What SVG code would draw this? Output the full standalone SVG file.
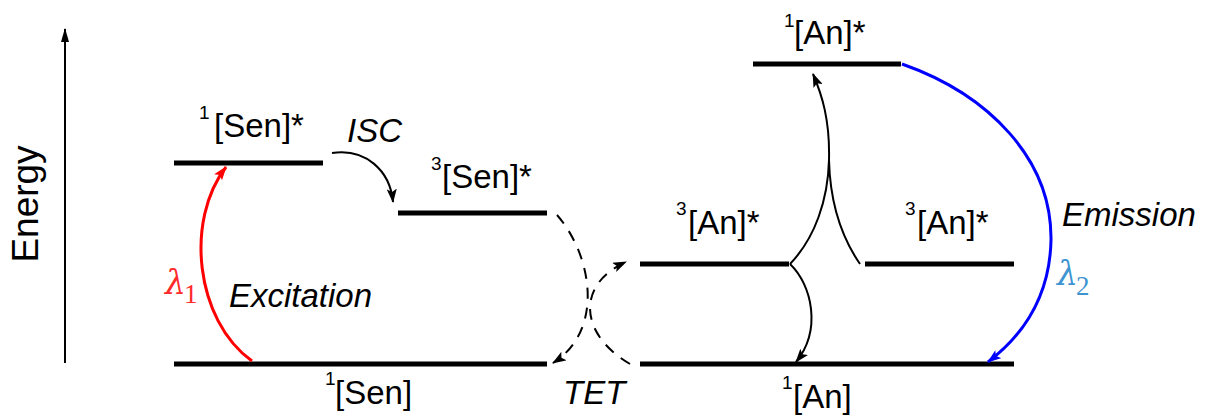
<svg xmlns="http://www.w3.org/2000/svg" width="1207" height="417" viewBox="0 0 1207 417">
<style>
.lvl{stroke:#000;stroke-width:5;fill:none}
.lbl{font-family:"Liberation Sans",Arial,sans-serif;font-size:33px;fill:#000}
.sup{font-size:19px}
.it{font-style:italic}
.con{fill:none;stroke:#000;stroke-width:2}
.dash{fill:none;stroke:#000;stroke-width:2;stroke-dasharray:11 9}
.lam{font-family:"DejaVu Serif",serif;font-style:italic;font-size:33px}
.sub{font-family:"Liberation Serif",serif;font-style:normal;font-size:27px}
</style>
<defs>
<marker id="ab" markerUnits="userSpaceOnUse" viewBox="0 0 14 10" refX="13" refY="5" markerWidth="14" markerHeight="10" orient="auto">
<path d="M0,0 L14,5 L0,10 L3,5 z" fill="#000"/>
</marker>
<marker id="ar" markerUnits="userSpaceOnUse" viewBox="0 0 14 10" refX="13" refY="5" markerWidth="14" markerHeight="10" orient="auto">
<path d="M0,0 L14,5 L0,10 L3,5 z" fill="#ff0000"/>
</marker>
<marker id="abl" markerUnits="userSpaceOnUse" viewBox="0 0 14 10" refX="13" refY="5" markerWidth="14" markerHeight="10" orient="auto">
<path d="M0,0 L14,5 L0,10 L3,5 z" fill="#0000ff"/>
</marker>
<marker id="axis" markerUnits="userSpaceOnUse" viewBox="0 0 14 8" refX="13" refY="4" markerWidth="14" markerHeight="8" orient="auto">
<path d="M0,0 L14,4 L0,8 z" fill="#000"/>
</marker>
</defs>

<g id="axis-energy">
<line x1="65" y1="363" x2="65" y2="29" stroke="#000" stroke-width="2" marker-end="url(#axis)"/>
<text class="lbl" style="font-size:37px" transform="translate(38,204) rotate(-90)" text-anchor="middle">Energy</text>
</g>

<g id="sen-s1">
<line class="lvl" x1="174" y1="163" x2="323" y2="163"/>
<text class="lbl"><tspan class="sup" x="199" y="119">1</tspan><tspan x="214" y="137">[Sen]*</tspan></text>
</g>
<g id="sen-t1">
<line class="lvl" x1="398" y1="213" x2="547" y2="213"/>
<text class="lbl"><tspan class="sup" x="431" y="170">3</tspan><tspan x="442" y="188">[Sen]*</tspan></text>
</g>
<g id="sen-s0">
<line class="lvl" x1="174" y1="364" x2="547" y2="364"/>
<text class="lbl"><tspan class="sup" x="325" y="385">1</tspan><tspan x="335" y="404">[Sen]</tspan></text>
</g>
<g id="an-s1">
<line class="lvl" x1="753" y1="64" x2="901" y2="64"/>
<text class="lbl"><tspan class="sup" x="784" y="27">1</tspan><tspan x="794" y="44">[An]*</tspan></text>
</g>
<g id="an-t1-left">
<line class="lvl" x1="640" y1="264" x2="789" y2="264"/>
<text class="lbl"><tspan class="sup" x="676" y="215">3</tspan><tspan x="688" y="234">[An]*</tspan></text>
</g>
<g id="an-t1-right">
<line class="lvl" x1="865" y1="264" x2="1014" y2="264"/>
<text class="lbl"><tspan class="sup" x="905" y="215">3</tspan><tspan x="917" y="234">[An]*</tspan></text>
</g>
<g id="an-s0">
<line class="lvl" x1="640" y1="364" x2="1014" y2="364"/>
<text class="lbl"><tspan class="sup" x="782" y="389">1</tspan><tspan x="793" y="408">[An]</tspan></text>
</g>

<g id="connectors">
<path d="M252,361 C195,320 185,220 226,167" fill="none" stroke="#ff0000" stroke-width="3" marker-end="url(#ar)"/>
<path class="con" d="M332,153 C365,148 390,170 393,202" marker-end="url(#ab)"/>
<path class="dash" d="M557,215 C592,255 605,330 553,363" marker-end="url(#ab)"/>
<path class="dash" d="M630,364 C580,335 575,285 626,262" marker-end="url(#ab)"/>
<path class="con" d="M790,264 C815,238 828,200 829,160 C830,120 822,95 813,74" marker-end="url(#ab)"/>
<path class="con" d="M860,264 C840,235 830,200 829,160"/>
<path class="con" d="M790,264 C812,285 822,330 796,362" marker-end="url(#ab)"/>
<path d="M902,64 C990,95 1052,160 1051,240 C1050,290 1030,330 988,362" fill="none" stroke="#0000ff" stroke-width="3" marker-end="url(#abl)"/>
</g>

<g id="labels">
<text class="lbl it" x="347" y="142">ISC</text>
<text class="lbl it" x="229" y="307">Excitation</text>
<text class="lbl it" x="563" y="404">TET</text>
<text class="lbl it" x="1062" y="226">Emission</text>
<text class="lam" fill="#ff2a2a" x="165" y="294">λ<tspan class="sub" x="184" y="303">1</tspan></text>
<text class="lam" fill="#3d94d1" x="1057" y="285">λ<tspan class="sub" x="1076" y="295">2</tspan></text>
</g>
</svg>
